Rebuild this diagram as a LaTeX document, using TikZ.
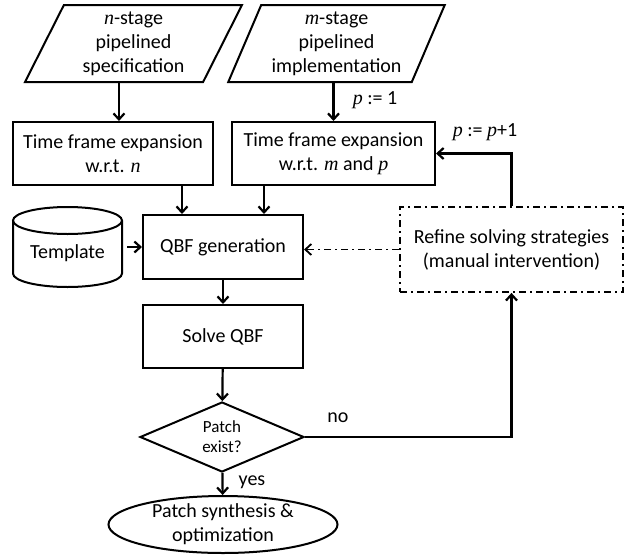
\documentclass[tikz,border=0pt]{standalone}
\usepackage{fontspec}
\setmainfont{Carlito}
\newfontfamily\varfont{Liberation Serif}
\newcommand{\var}[1]{{\varfont\itshape #1}}
\usetikzlibrary{shapes.geometric,arrows.meta,calc}
\begin{document}
\begin{tikzpicture}[x=1pt,y=-1pt,
	every node/.style={font=\fontsize{20}{24}\selectfont},
	proc/.style={rectangle,draw,line width=2pt,inner sep=0pt,align=center},
	io/.style={trapezium,trapezium left angle=66,trapezium right angle=114,trapezium stretches=true,draw,line width=2pt,inner sep=0pt,align=center,minimum width=217pt,minimum height=77pt},
	arr/.style={line width=2.2pt,-{Straight Barb[length=6pt,width=11pt]}},
	dashdot/.style={line width=1.8pt,dash pattern=on 7pt off 4pt on 2pt off 4pt}]
		\useasboundingbox (0,0) rectangle (636,554);
		%Eingaben
		\node at (133.5,43.5) [io] (spec) {\var{n}-stage\\pipelined\\specification};
		\node at (336.5,43.5) [io] (impl) {\var{m}-stage\\pipelined\\implementation};
		%Zeitrahmen
		\node at (113,153.5) [proc,minimum width=200pt,minimum height=63pt] (tfe1) {Time frame expansion\\w.r.t. \var{n}};
		\node at (333.5,153.5) [proc,minimum width=203pt,minimum height=63pt] (tfe2) {Time frame expansion\\w.r.t. \var{m} and \var{p}};
		\node at (375,100) (init) {\var{p} := 1};
		\node at (485,132) (incr) {\var{p} := \var{p}+1};
		% Template (Zylinder)
		\draw[line width=2pt] (67.5,220.5) ellipse [x radius=54.5pt,y radius=13.5pt];
		\draw[line width=2pt] (13,220.5) -- (13,273.5) arc[start angle=180,end angle=360,x radius=54.5pt,y radius=13.5pt] -- (122,220.5);
		\node at (67.5,253) [minimum width=109pt,inner sep=0pt] (tmpl) {Template};
		% QBF
		\node at (223,247) [proc,minimum width=160pt,minimum height=64pt] (gen) {QBF generation};
		\node at (223,336.5) [proc,minimum width=160pt,minimum height=63pt] (solve) {Solve QBF};
		\node at (511.5,249.5) [draw,dashdot,align=center,minimum width=223pt,minimum height=85pt,inner sep=0pt] (refine) {Refine solving strategies\\(manual intervention)};
		%Entscheidung
		\node at (222,437) [diamond,draw,line width=2pt,aspect=2.34,inner sep=0pt,minimum width=164pt,minimum height=70pt,align=center,font=\fontsize{17}{20}\selectfont] (exist) {Patch\\exist?};
		\node at (338,418) (no) {no};
		\node at (252,482) (yes) {yes};
		\node at (223,524.5) [ellipse,draw,line width=2pt,inner xsep=0pt,inner ysep=-4pt,minimum width=229pt,minimum height=57pt,align=center] (synth) {Patch synthesis \&\\optimization};
		%Pfeile
		\coordinate (specout) at ($(spec.bottom left corner)!0.53!(spec.bottom right corner)$);
		\draw[arr] (specout) -- (specout |- tfe1.north);
		\draw[arr] (impl.south -| tfe2.north) -- (tfe2.north);
		\draw[arr] ([xshift=-41pt]gen.north |- tfe1.south) -- ([xshift=-41pt]gen.north);
		\draw[arr] ([xshift=41pt]gen.north |- tfe2.south) -- ([xshift=41pt]gen.north);
		\draw[arr,shorten <=5pt] (tmpl.east |- gen.west) -- (gen.west);
		\draw[arr] (gen) -- (solve);
		\draw[arr] (solve) -- (exist);
		\draw[arr] (exist) -- (synth);
		\draw[arr] (exist.east) -| (refine.south);
		\draw[arr] (refine.north) |- (tfe2.east);
		\draw[dashdot,-{Straight Barb[length=6pt,width=11pt]}] (refine.west) -- (refine.west -| gen.east);
\end{tikzpicture}
\end{document}
